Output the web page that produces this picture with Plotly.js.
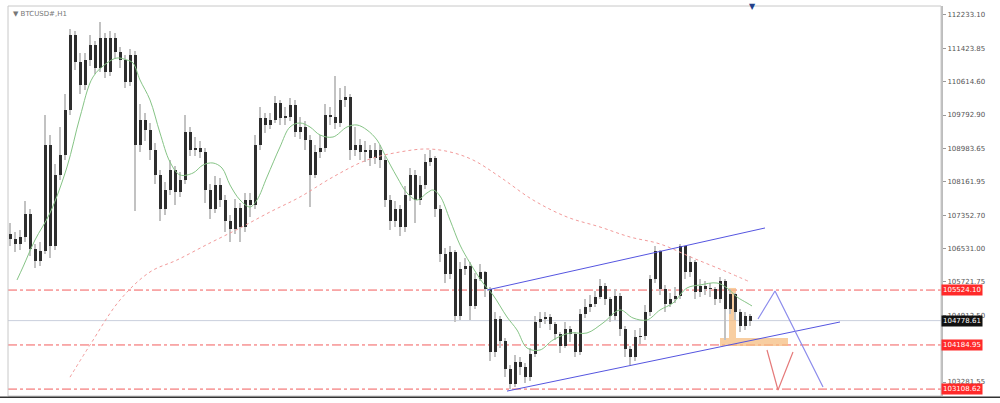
<!DOCTYPE html>
<html><head><meta charset="utf-8">
<script src="https://cdn.plot.ly/plotly-3.0.1.min.js"></script>
<style>html,body{margin:0;padding:0;background:#fff}#chart{width:1000px;height:403px}</style>
</head><body><div id="chart"></div>
<script>
// ---- data ----
const firstOpen = 106900;
const closes = [106759,106637,106807,107367,106515,106223,106467,109070,106588,108340,
108827,109922,111746,111089,110530,111138,111503,110944,111673,110846,
111673,111333,111138,110603,111260,109070,109678,109435,108948,108340,
107489,107975,108462,107927,108219,109386,108948,108997,108900,107975,
107489,108097,107732,107197,107002,107537,107051,107732,107610,109070,
109727,109557,109678,110092,109727,109751,110043,109386,109508,109192,
108340,108900,108997,109800,109751,109605,110165,110238,108948,109070,
108900,108948,108754,108948,108705,107732,107197,107489,107051,107854,
108340,107732,108097,108656,108754,107489,106394,105907,106442,104885,
106029,106102,105129,105786,105956,105542,104009,104812,104277,103596,
103231,103766,103645,103401,103961,104739,104812,104861,104691,104447,
104155,104569,104447,104009,104934,105104,105177,105348,105615,105299,
104885,105372,104569,104082,103888,104374,104399,104983,105786,106467,
105542,105177,105299,105372,106588,105956,106199,105469,105615,105542,
105542,105299,105737,105056,105421,104983,104642,104885,104778.61];
const highs = [107150,106950,107000,107700,107500,106650,106700,109800,109300,108600,
109500,110300,111900,111850,111300,111300,111750,111600,112050,111800,
111850,111800,111450,111250,111400,111350,110050,109850,109600,109100,
108450,108150,108700,108550,108400,109800,109500,109250,109150,109000,
108100,108300,108250,107850,107350,107750,107650,107900,107900,109300,
110000,109850,109850,110250,110150,110000,110200,110150,109750,109650,
109300,109050,109300,110050,110000,110750,110450,110500,110300,109500,
109200,109150,109050,109100,109050,108800,107850,107700,107600,108050,
108500,108450,108300,108850,108950,108800,107600,106550,106600,106500,
106200,106300,106200,105950,106150,106000,105600,105000,104900,104350,
103700,103950,103900,103750,104100,104900,105000,105000,104950,104750,
104500,104750,104650,104500,105050,105300,105400,105500,105800,105700,
105350,105550,105450,104650,104150,104550,104600,105150,105900,106600,
106500,105650,105450,105600,106650,106600,106350,106250,105800,105750,
105700,105600,105850,105800,105550,105450,105050,105000,104950];
const lows = [106600,106450,106500,106700,106350,106050,106100,106400,106300,106500,
108200,108700,109800,110900,110300,110400,111000,110800,110850,110700,
110750,111150,110950,110450,110500,107450,108900,109150,108700,108100,
107200,107350,107850,107600,107800,108100,108800,108800,108750,107650,
107250,107400,107550,106950,106700,106900,106700,106950,107300,107500,
108950,109350,109450,109600,109550,109550,109650,109250,109200,108950,
107550,108250,108750,108900,109550,109450,109500,110000,108700,108800,
108700,108650,108550,108600,108500,107550,107000,107050,106850,106950,
107700,107150,107600,108000,108550,107300,106200,105700,105800,104750,
104800,105900,104800,105050,105750,105350,103800,103900,104100,103400,
103108.62,103150,103450,103250,103300,103900,104600,104700,104550,104300,
104000,104100,104250,103900,103950,104850,105000,105100,105300,105150,
104750,104800,104400,103900,103700,103800,104200,104300,104900,105700,
105400,105000,105100,105200,105300,105800,105850,105300,105350,105400,
105350,105150,105200,104300,104950,104800,104500,104550,104650];

// moving averages (bar index, price)
const maFastIdx = [1.4,2.6,5,8,11.4,14,16.6,19.4,21.4,23.4,24.6,26,28,30,32,34,36.6,38.6,40.6,42.4,44,46,48,49.4,51.4,54,56,58,60,62,64.6,67.4,69.4,71.4,73.4,75,77.4,79.4,81.4,83.4,84.6,86,88,90,92,94.6,96.6,99.4,101.4,103.4,106,108.6,112,115.4,118.6,122,124.6,127.4,130,132.6,135.4,138,141.4,143.4,145.4,147.4,148.4];
const maFastVal = [105770,106087,106745,107404,108526,109745,110721,111062,111184,111135,111062,110648,110160,109355,108648,108331,108379,108574,108623,108501,108087,107721,107550,107721,108282,109014,109501,109599,109501,109306,109257,109501,109550,109428,109184,108818,108282,107892,107721,107892,107965,107818,107233,106623,106184,105696,105404,104867,104550,104111,104062,104306,104477,104477,104721,105038,104843,104794,105038,105209,105575,105648,105696,105575,105355,105209,105136];
const maSlowIdx = [12,16,22,28,33.4,40,46,52,58,64.6,71.4,78,83.4,88,92.6,98,104.6,111.4,118,124,130,136.6,143.4,148];
const maSlowVal = [103400,104184,105282,105965,106257,106672,107038,107428,107794,108282,108696,108892,108965,108892,108696,108282,107721,107306,107062,106818,106648,106306,105965,105721];

// drawn objects (bar index, price)
const channelUpperIdx = [95.4,151];   const channelUpperVal = [105524.10,107038];
const channelLowerIdx = [99.4,166];   const channelLowerVal = [103060,104745];
const arrowBlueIdx = [149.6,153,162.6]; const arrowBlueVal = [104818,105501,103160];
const arrowRedIdx = [151.4,153.6,156.6]; const arrowRedVal = [104062,103087,104014];
const zoneV = {x0:143.8,x1:145.2,y0:104355,y1:105575};
const zoneH = {x0:142,x1:155.6,y0:104160,y1:104355};
const levelLines = [105524.10,104184.95,103108.62];
const lastPrice = 104778.61;

const tickVals = [112233.10,111423.85,110614.60,109792.90,108983.65,108161.95,107352.70,106531.00,105721.75,104912.50,103281.55];
const tickText = ['112233.10','111423.85','110614.60','109792.90','108983.65','108161.95','107352.70','106531.00','105721.75','104912.50','103281.55'];
const symbolTitle = '▼ BTCUSD#,H1';

// ---- build ----
const idx = closes.map((_, i) => i);
const opens = closes.map((c, i) => i === 0 ? firstOpen : closes[i-1]);
const bodyBase = closes.map((c, i) => Math.min(c, opens[i]));
const bodyLen = closes.map((c, i) => Math.max(Math.abs(c - opens[i]), 40));
const wickLen = highs.map((h, i) => h - lows[i]);

const traces = [
  {type:'bar', x:idx, base:lows, y:wickLen, width:0.35, marker:{color:'#c2c2c2', line:{width:0}}, hoverinfo:'skip'},
  {type:'bar', x:idx, base:bodyBase, y:bodyLen, width:0.6, marker:{color:'#2e2e2e', line:{width:0}}, hoverinfo:'skip'},
  {type:'scatter', mode:'lines', x:maFastIdx, y:maFastVal, line:{color:'#86c486', width:1, shape:'spline'}},
  {type:'scatter', mode:'lines', x:maSlowIdx, y:maSlowVal, line:{color:'#f29a9a', width:1, dash:'dot', shape:'spline'}},
  {type:'scatter', mode:'lines', x:channelUpperIdx, y:channelUpperVal, line:{color:'#5555e0', width:1}},
  {type:'scatter', mode:'lines', x:channelLowerIdx, y:channelLowerVal, line:{color:'#5555e0', width:1}},
  {type:'scatter', mode:'lines', x:arrowBlueIdx, y:arrowBlueVal, line:{color:'#8c8cec', width:1.2}},
  {type:'scatter', mode:'lines', x:arrowRedIdx, y:arrowRedVal, line:{color:'#e57a7a', width:1.2}}
];

const shapes = [];
levelLines.forEach(v => shapes.push({type:'line', xref:'paper', x0:0, x1:1, yref:'y', y0:v, y1:v, line:{color:'#f25c5c', width:1, dash:'dashdot'}, layer:'below'}));
shapes.push({type:'line', xref:'paper', x0:0, x1:1, yref:'y', y0:lastPrice, y1:lastPrice, line:{color:'#c9cfdd', width:1}, layer:'below'});
[zoneV, zoneH].forEach(z => shapes.push({type:'rect', xref:'x', yref:'y', x0:z.x0, x1:z.x1, y0:z.y0, y1:z.y1, fillcolor:'rgba(246,190,130,0.75)', line:{width:0}, layer:'below'}));
// frame
shapes.push({type:'rect', xref:'paper', yref:'paper', x0:0, x1:1, y0:0, y1:1, line:{color:'#c8c8c8', width:1}});
shapes.push({type:'line', xref:'paper', yref:'paper', x0:-0.01, x1:1.07, y0:-0.003, y1:-0.003, line:{color:'#333', width:1.5}});

const labelBoxes = [
  {v:levelLines[0], bg:'#ff2a2a'},
  {v:lastPrice, bg:'#111111'},
  {v:levelLines[1], bg:'#ff2a2a'},
  {v:levelLines[2], bg:'#ff2a2a'}
];
const annotations = labelBoxes.map(b => ({
  xref:'paper', x:1, xanchor:'left', xshift:0, yref:'y', y:b.v, yanchor:'middle',
  text:b.v.toFixed(2), showarrow:false, bgcolor:b.bg, borderpad:1,
  font:{family:'DejaVu Sans', size:7, color:'#ffffff'}
}));
annotations.push({xref:'paper', x:0, xanchor:'left', xshift:3, yref:'paper', y:1, yanchor:'top', yshift:-2,
  text:symbolTitle, showarrow:false, font:{family:'DejaVu Sans', size:7, color:'#777'}});
annotations.push({xref:'x', x:148.5, yref:'paper', y:1, yanchor:'middle', text:'▼', showarrow:false,
  font:{family:'DejaVu Sans', size:8, color:'#23408a'}});

const layout = {
  width:1000, height:403,
  margin:{l:8, r:59, t:6, b:7},
  paper_bgcolor:'#ffffff', plot_bgcolor:'#ffffff',
  showlegend:false, barmode:'overlay', bargap:0, hovermode:false,
  xaxis:{range:[-0.4,186.2], showticklabels:false, showgrid:false, zeroline:false, showline:false, ticks:'', fixedrange:true},
  yaxis:{side:'right', range:[102940,112452], tickmode:'array', tickvals:tickVals, ticktext:tickText,
    ticks:'outside', ticklen:3, tickcolor:'#999', showgrid:false, zeroline:false,
    showline:true, linecolor:'#bdbdbd', linewidth:2,
    tickfont:{family:'DejaVu Sans', size:7, color:'#555'}},
  shapes:shapes, annotations:annotations
};
Plotly.newPlot('chart', traces, layout, {displayModeBar:false, staticPlot:true});
</script></body></html>
